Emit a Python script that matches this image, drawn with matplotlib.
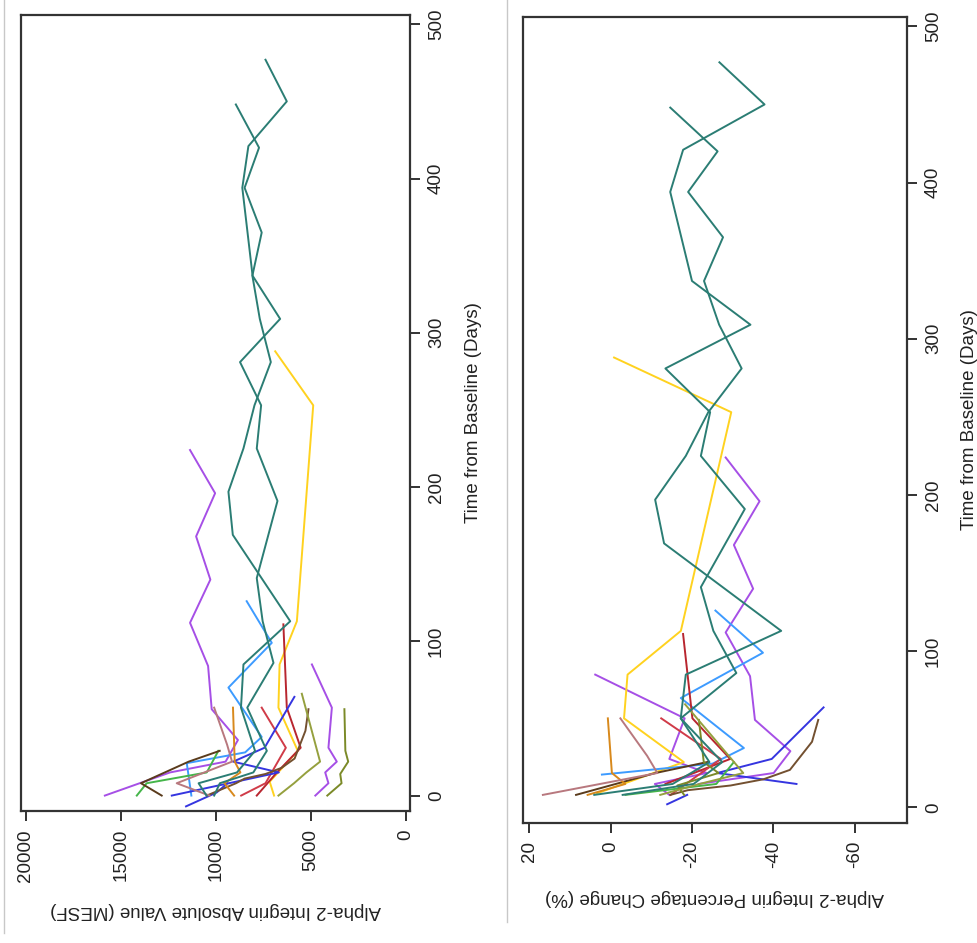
import matplotlib
matplotlib.use("Agg")
import matplotlib.pyplot as plt
from matplotlib.lines import Line2D

plt.rcParams['font.family'] = ['Liberation Sans', 'DejaVu Sans']
plt.rcParams['axes.unicode_minus'] = False

# visit day and alpha-2 integrin (MESF) for each subject
purple_a_days = [0, 15, 22, 36, 56, 84, 112, 140, 168, 196, 224]
purple_a_mesf = [15850, 12420, 9500, 8850, 10230, 10420, 11370, 10300, 11050, 10050, 11370]

purple_b_days = [0, 8, 15, 22, 31, 57, 85]
purple_b_mesf = [4780, 4090, 4260, 3650, 4090, 3910, 4960]

teal_a_days = [0, 8, 15, 29, 57, 86, 113, 141, 191, 225, 253, 281, 309, 337, 394, 421, 450, 477]
teal_a_mesf = [10100, 9800, 8040, 7330, 8360, 6980, 7550, 7860, 6770, 7860, 7630, 8740,
               6630, 8080, 8620, 8300, 6280, 7400]

teal_b_days = [0, 8, 15, 29, 57, 85, 113, 169, 197, 225, 253, 281, 309, 337, 365, 394, 420, 448]
teal_b_mesf = [10500, 10920, 8900, 7950, 8690, 8560, 6100, 9120, 9350, 8560, 7980, 7120,
               7700, 8090, 7600, 8500, 7740, 8960]

yellow_days = [0, 9, 29, 57, 85, 113, 253, 288]
yellow_mesf = [6950, 7180, 5700, 6720, 6660, 5750, 4890, 6890]

lightblue_days = [0, 21, 28, 38, 70, 99, 126]
lightblue_mesf = [11300, 11540, 8470, 7600, 9350, 7070, 8390]

red_a_days = [0, 15, 31, 57, 111]
red_a_mesf = [7860, 6800, 5550, 6280, 6460]

red_b_days = [0, 8, 31, 57]
red_b_mesf = [8680, 7400, 6330, 7600]

blue_a_days = [0, 15, 22, 31, 64]
blue_a_mesf = [12330, 6700, 9100, 7450, 5880]

blue_b_days = [-7, 2, 8]
blue_b_mesf = [11580, 9970, 9400]

green_days = [0, 8, 15, 29]
green_mesf = [14170, 13650, 10490, 9880]

brown_a_days = [0, 8, 22, 29]
brown_a_mesf = [12860, 13950, 11440, 9810]

brown_b_days = [0, 8, 11, 14, 18, 24, 42, 56]
brown_b_mesf = [10490, 8950, 8500, 7400, 6550, 5870, 5300, 5140]

orange_days = [0, 8, 15, 22, 57]
orange_mesf = [9050, 9560, 8720, 9020, 9110]

mauve_days = [0, 8, 22, 33, 57]
mauve_mesf = [10350, 12070, 9160, 9420, 10100]

olive_a_days = [0, 8, 14, 22, 29, 56]
olive_a_mesf = [4150, 3400, 3470, 3050, 3200, 3250]

olive_b_days = [0, 8, 15, 22, 66]
olive_b_mesf = [6720, 5900, 5250, 4530, 5490]

subjects = [
    (purple_a_days, purple_a_mesf, '#a64fe6'),
    (purple_b_days, purple_b_mesf, '#a64fe6'),
    (yellow_days, yellow_mesf, '#ffd21f'),
    (lightblue_days, lightblue_mesf, '#3d9bff'),
    (red_a_days, red_a_mesf, '#b8262f'),
    (red_b_days, red_b_mesf, '#d03b48'),
    (blue_a_days, blue_a_mesf, '#3535e0'),
    (blue_b_days, blue_b_mesf, '#3535e0'),
    (green_days, green_mesf, '#45b54a'),
    (brown_a_days, brown_a_mesf, '#5a3b1c'),
    (brown_b_days, brown_b_mesf, '#735030'),
    (orange_days, orange_mesf, '#d8891c'),
    (mauve_days, mauve_mesf, '#b8787e'),
    (olive_a_days, olive_a_mesf, '#7b8a28'),
    (olive_b_days, olive_b_mesf, '#95a03e'),
    (teal_a_days, teal_a_mesf, '#2b7d74'),
    (teal_b_days, teal_b_mesf, '#2b7d74'),
]

value_ticks = [0, 5000, 10000, 15000, 20000]
change_ticks = [20, 0, -20, -40, -60]
day_ticks = [0, 100, 200, 300, 400, 500]


def pct_change(mesf):
    """Percent change of every later visit from the first one."""
    return [(v - mesf[0]) / mesf[0] * 100 for v in mesf[1:]]


W, H = 977, 943


def box(l, t, r, b):
    return [l / W, 1 - b / H, (r - l) / W, (b - t) / H]


def style(ax, xticks, xlim, xlabel):
    ax.set_xlim(xlim)
    ax.set_ylim(-10, 506)
    ax.set_xticks(xticks)
    ax.set_yticks(day_ticks)
    ax.yaxis.tick_right()
    ax.yaxis.set_label_position('right')
    ax.tick_params(axis='both', direction='out', length=7, width=1.3,
                   colors='#222222', labelsize=13.5, pad=6)
    ax.tick_params(axis='x', labelrotation=90)
    ax.tick_params(axis='y', labelrotation=90)
    for lab in ax.get_yticklabels():
        lab.set_va('center')
    for sp in ax.spines.values():
        sp.set_linewidth(1.6)
        sp.set_color('#333333')
    ax.set_xlabel(xlabel, rotation=180, fontsize=13.5, color='#222222', labelpad=15)
    ax.set_ylabel('Time from Baseline (Days)', rotation=90, fontsize=13.5,
                  color='#222222', labelpad=14)


fig = plt.figure(figsize=(9.77, 9.43), dpi=100)
ax1 = fig.add_axes(box(21, 15, 410, 811))
ax2 = fig.add_axes(box(523, 17, 907, 823))

for days, mesf, color in subjects:
    ax1.plot(mesf, days, color=color, lw=1.4)
    ax2.plot(pct_change(mesf), days[1:], color=color, lw=1.4)

style(ax1, value_ticks, (20260, -200), 'Alpha-2 Integrin Absolute Value (MESF)')
style(ax2, change_ticks, (21.5, -72.8), 'Alpha-2 Integrin Percentage Change (%)')

# thin grey panel edges
for x, bottom in [(4, 933), (507, 922)]:
    fig.add_artist(Line2D([x / W, x / W], [1 - bottom / H, 1], color='#c8c8c8',
                          lw=1, transform=fig.transFigure))

fig.savefig('out.png', dpi=100)
